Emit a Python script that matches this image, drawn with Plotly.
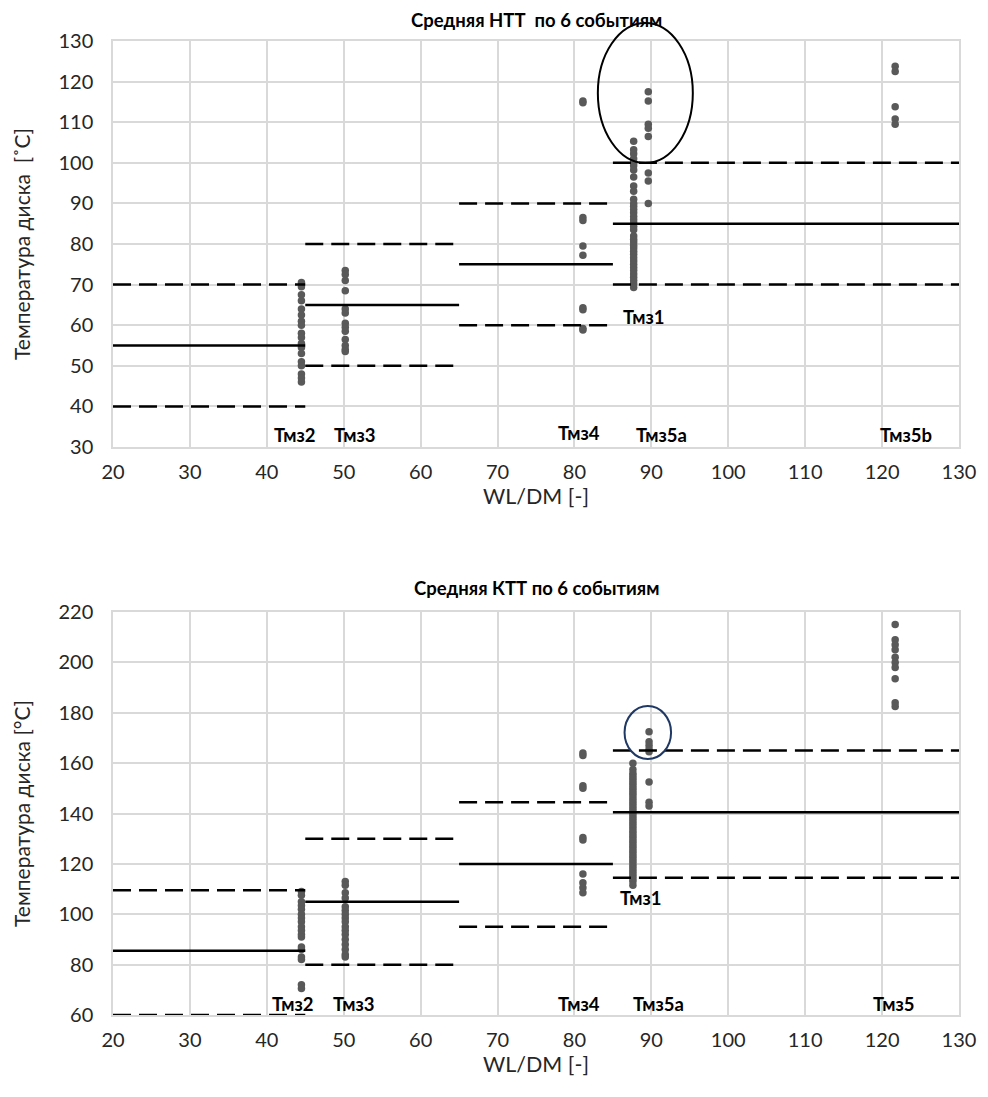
import plotly.graph_objects as go

# ---------------- data: top chart (НТТ) ----------------
top_x45 = [70.5, 69.5, 67.5, 66, 64, 62.5, 61, 60, 58, 57, 55.5, 54.5, 53, 51, 50, 48, 47, 46]
top_x50 = [73.5, 72.5, 71, 68.5, 64, 63, 60.5, 59.5, 58.5, 56.5, 55, 54, 53.5]
top_x81 = [115.2, 114.8, 86.5, 85.8, 79.5, 77.2, 64.3, 63.8, 59.2, 58.8]
top_x877 = [105.3, 103.2, 102.2, 101, 100, 99.3, 98.2, 96.5, 94.3, 93, 91, 90, 89.3, 88.5,
            87.7, 86.8, 86, 85.2, 84.3, 83.5, 82, 81.2, 80.5, 79.7, 79, 78.2, 77.5, 76.6,
            75.8, 75, 74.2, 73.5, 72.6, 71.8, 71, 70.2, 69.3]
top_x896 = [117.5, 115.2, 109.5, 108.5, 106.5, 97.5, 95.5, 90]
top_x122 = [123.8, 122.5, 113.8, 110.8, 109.5]

top_groups_x = [44.5, 50.2, 81.1, 87.7, 89.6, 121.7]
top_groups_y = [top_x45, top_x50, top_x81, top_x877, top_x896, top_x122]

top_seg_x0 = [20, 45, 65, 85]
top_seg_x1 = [45, 65, 85, 130]
top_mean = [55, 65, 75, 85]
top_low = [40, 50, 60, 70]
top_high = [70, 80, 90, 100]

top_labels = ["Тмз2", "Тмз3", "Тмз4", "Тмз5а", "Тмз5b", "Тмз1"]
top_label_x = [43.7, 51.5, 80.6, 91.3, 123.1, 89.1]
top_label_y = [33, 33, 33.5, 33, 33, 62]

# ---------------- data: bottom chart (КТТ) ----------------
bot_x45 = [109, 107.5, 105, 103.5, 102, 100, 98.5, 97, 95, 93.5, 92, 91, 87, 86, 83, 82, 72, 70.5]
bot_x50 = [113, 111.5, 108.5, 106.5, 103, 101.5, 100, 98.5, 97, 95, 93.5, 92, 90, 88, 86, 84, 83]
bot_x81 = [164, 163, 151, 150, 130.5, 129.5, 116, 112.5, 110.5, 108.5]
bot_x876 = [160, 157.5, 156, 155, 154, 153, 152, 151, 150, 149, 148, 147, 146, 145, 144, 143,
            142, 141, 140, 139, 138, 137, 136, 135, 134, 133, 132, 131, 130, 129, 128, 127,
            126, 125, 124, 123, 122, 121, 120, 119, 118, 117, 116, 115, 114, 113, 111.5]
bot_x897 = [172.5, 168.5, 167, 165.5, 164.5, 152.5, 144.5, 143]
bot_x122 = [215, 209, 207, 205, 202, 200, 198, 193.5, 184, 182.5]

bot_groups_x = [44.5, 50.2, 81.1, 87.6, 89.7, 121.7]
bot_groups_y = [bot_x45, bot_x50, bot_x81, bot_x876, bot_x897, bot_x122]

bot_seg_x0 = [20, 45, 65, 85]
bot_seg_x1 = [45, 65, 85, 130]
bot_mean = [85.5, 105, 120, 140.5]
bot_low = [60, 80, 95, 114.5]
bot_high = [109.5, 130, 144.5, 165]

bot_labels = ["Тмз2", "Тмз3", "Тмз4", "Тмз5а", "Тмз5", "Тмз1"]
bot_label_x = [43.4, 51.4, 80.6, 90.9, 121.5, 88.7]
bot_label_y = [64.3, 64.3, 64.3, 64.3, 64.3, 106.5]

x_ticks = list(range(20, 131, 10))
top_y_ticks = list(range(30, 131, 10))
bot_y_ticks = list(range(60, 221, 20))

# ---------------- figure ----------------
W, H = 988, 1097
ML, MR, MT, MB = 113, 20, 41, 82
plot_h = H - MT - MB

def py2paper(py):
    return (H - MB - py) / plot_h

def px2paper(px):
    return (px - ML) / (W - ML - MR)

fig = go.Figure()

PT_COLOR = "#595959"
FONT = "Lato"
TXT = "#262626"

def add_chart(xa, ya, gx, gy, x0s, x1s, mean, low, high):
    for x, ys in zip(gx, gy):
        fig.add_trace(go.Scatter(x=[x] * len(ys), y=ys, mode="markers", xaxis=xa, yaxis=ya,
                                 marker=dict(color=PT_COLOR, size=7.5), showlegend=False,
                                 hoverinfo="skip"))
    for a, b, m, lo, hi in zip(x0s, x1s, mean, low, high):
        fig.add_trace(go.Scatter(x=[a, b], y=[m, m], mode="lines", xaxis=xa, yaxis=ya,
                                 line=dict(color="black", width=2.5), showlegend=False,
                                 hoverinfo="skip"))
        for v in (lo, hi):
            fig.add_trace(go.Scatter(x=[a, b], y=[v, v], mode="lines", xaxis=xa, yaxis=ya,
                                     line=dict(color="black", width=2.5, dash="18px,8px"),
                                     showlegend=False, hoverinfo="skip"))

add_chart("x", "y", top_groups_x, top_groups_y, top_seg_x0, top_seg_x1, top_mean, top_low, top_high)
add_chart("x2", "y2", bot_groups_x, bot_groups_y, bot_seg_x0, bot_seg_x1, bot_mean, bot_low, bot_high)

GRID = "#d9d9d9"
axis_common = dict(showgrid=True, gridcolor=GRID, gridwidth=1.5, zeroline=False,
                   showline=True, linecolor=GRID, linewidth=1.5, mirror=True,
                   ticks="", tickfont=dict(family=FONT, size=20, color=TXT))

top_dom = [py2paper(447), 1.0]
bot_dom = [0.0, py2paper(612)]

xtitle_font = dict(family=FONT, size=21.5, color=TXT)
ytitle_font = dict(family=FONT, size=21, color=TXT)

fig.update_layout(
    width=W, height=H,
    margin=dict(l=ML, r=MR, t=MT, b=MB),
    paper_bgcolor="white", plot_bgcolor="white",
    font=dict(family=FONT, color="black"),
    xaxis=dict(domain=[0, 1], anchor="y", range=[20, 130], tickvals=x_ticks,
               ticklabelstandoff=6,
               title=dict(text="WL/DM [-]", font=xtitle_font, standoff=7),
               **axis_common),
    yaxis=dict(domain=top_dom, anchor="x", range=[30, 130], tickvals=top_y_ticks,
               ticklabelstandoff=14,
               title=dict(text="Температура диска  [˚C]", font=ytitle_font, standoff=22),
               **axis_common),
    xaxis2=dict(domain=[0, 1], anchor="y2", range=[20, 130], tickvals=x_ticks,
                ticklabelstandoff=6,
                title=dict(text="WL/DM [-]", font=xtitle_font, standoff=7),
                **axis_common),
    yaxis2=dict(domain=bot_dom, anchor="x2", range=[60, 220], tickvals=bot_y_ticks,
                ticklabelstandoff=14,
                title=dict(text="Температура диска [°C]", font=ytitle_font, standoff=22),
                **axis_common),
)

fig.add_annotation(text="<b>Средняя НТТ  по 6 событиям</b>", xref="paper", yref="paper",
                   x=0.5, y=py2paper(20), showarrow=False, yanchor="middle",
                   font=dict(family=FONT, size=18.5, color="black"))
fig.add_annotation(text="<b>Средняя КТТ по 6 событиям</b>", xref="paper", yref="paper",
                   x=0.5, y=py2paper(588), showarrow=False, yanchor="middle",
                   font=dict(family=FONT, size=18.5, color="black"))

for t, x, y in zip(top_labels, top_label_x, top_label_y):
    fig.add_annotation(text="<b>" + t + "</b>", x=x, y=y, xref="x", yref="y", showarrow=False,
                       yanchor="middle", font=dict(family=FONT, size=18.5, color="black"))
for t, x, y in zip(bot_labels, bot_label_x, bot_label_y):
    fig.add_annotation(text="<b>" + t + "</b>", x=x, y=y, xref="x2", yref="y2", showarrow=False,
                       yanchor="middle", font=dict(family=FONT, size=18.5, color="black"))

fig.add_shape(type="circle", xref="paper", yref="paper",
              x0=px2paper(603), x1=px2paper(699), y0=py2paper(163), y1=py2paper(23),
              line=dict(color="black", width=2))
fig.add_shape(type="circle", xref="paper", yref="paper",
              x0=px2paper(630), x1=px2paper(677), y0=py2paper(759), y1=py2paper(706),
              line=dict(color="#1f3864", width=2))

fig.write_html("out.html")
